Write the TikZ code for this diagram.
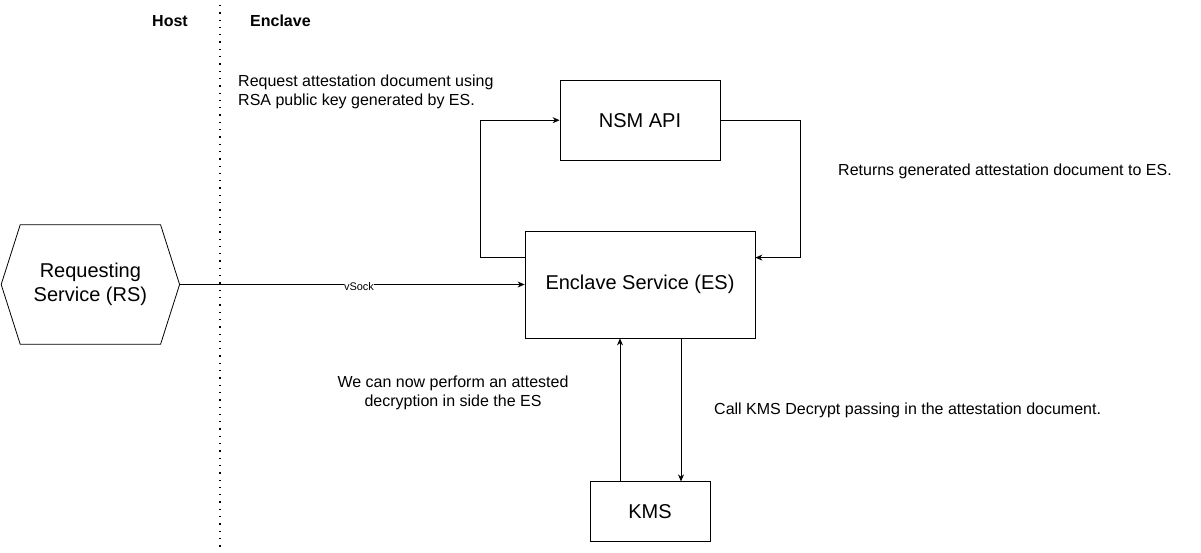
\documentclass[tikz,border=0pt]{standalone}
\usepackage{fontspec}
\setmainfont{Liberation Sans}
\usetikzlibrary{positioning, arrows.meta}

\tikzset{
	box/.style={draw, line width=0.8pt, inner sep=0pt, font=\fontsize{20}{24}\selectfont},
	note/.style={inner sep=0pt, font=\fontsize{16}{19.5}\selectfont},
	side/.style={inner sep=0pt, font=\fontsize{16}{19.5}\selectfont\bfseries},
	conn/.style={line width=0.8pt, -{Stealth[length=7pt,width=6pt]}}
}

\begin{document}
\begin{tikzpicture}[x=1pt, y=-1pt]
	\useasboundingbox (0,0) rectangle (1201,553);

	% host / enclave split
	\coordinate (top) at (220,5);
	\coordinate (bottom) at (220,553);
	\draw[line width=1.3pt, dash pattern=on 1.3pt off 6pt] (top) -- (bottom);
	\node[side] (host) at (170,21) {Host};
	\node[side, anchor=west] (encl) at (250,21) {Enclave};

	\node[box, minimum width=230pt, minimum height=107pt] (es) at (640,284.5) {Enclave Service (ES)};
	\node[box, minimum width=160pt, minimum height=80pt, above=70pt of es] (nsm) {NSM API};
	\node[box, minimum width=120pt, minimum height=60pt, below=143pt of es, xshift=10pt] (kms) {KMS};
	\node[inner sep=0pt, minimum width=178pt, minimum height=119pt, align=center,
		font=\fontsize{20}{24}\selectfont, left=345pt of es] (rs) {Requesting\\Service (RS)};
	\draw[line width=0.8pt]
		([xshift=19pt]rs.north west) -- ([xshift=-19pt]rs.north east) -- (rs.east)
		-- ([xshift=-19pt]rs.south east) -- ([xshift=19pt]rs.south west) -- (rs.west) -- cycle;

	\draw[conn] (rs.east) -- node[pos=0.52, fill=white, inner sep=0.5pt, yshift=-2pt,
		font=\fontsize{11}{13}\selectfont] (vsock) {vSock} (es.west);

	\draw[conn] ([yshift=-27pt]es.north west) -- ++(-44,0) |- (nsm.west);
	\draw[conn] (nsm.east) -- ++(80,0) |- ([yshift=-27pt]es.north east);

	\draw[conn] ([xshift=-30pt]kms.north) -- ([xshift=-30pt]kms.north |- es.south);
	\draw[conn] ([xshift=31pt]kms.north |- es.south) -- ([xshift=31pt]kms.north);

	% notes
	\node[note, anchor=west, align=left] (req) at (238,92) {Request attestation document using\\RSA public key generated by ES.};
	\node[note, anchor=west] (ret) at (838,171) {Returns generated attestation document to ES.};
	\node[note, anchor=west] (call) at (714,410) {Call KMS Decrypt passing in the attestation document.};
	\node[note, align=center] (now) at (453,393) {We can now perform an attested\\decryption in side the ES};
\end{tikzpicture}
\end{document}
